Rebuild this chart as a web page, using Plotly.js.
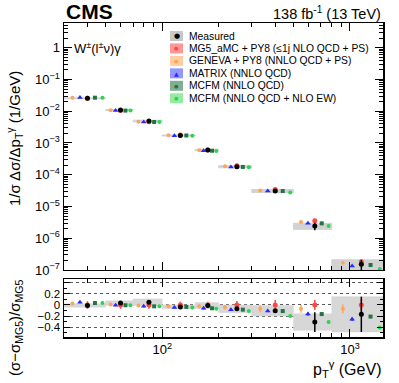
<!DOCTYPE html>
<html>
<head>
<meta charset="utf-8">
<script src="https://cdn.plot.ly/plotly-3.0.1.min.js"></script>
<style>
html, body { margin: 0; padding: 0; background: #fff; }
#chart { width: 399px; height: 383px; }
</style>
</head>
<body>
<div id="chart"></div>
<script>
// p_T^gamma bins (GeV)
var binLo = [30, 50, 70, 100, 150, 200, 300, 500, 800];
var binHi = [50, 70, 100, 150, 200, 300, 500, 800, 1500];

// measured 1/sigma dsigma/dpT (1/GeV)
var measured = [2.55e-2, 1.09e-2, 4.92e-3, 1.72e-3, 6.0e-4, 1.79e-4, 3.08e-5, 2.43e-6, 1.51e-7];

// everything below is (sigma - sigma_MG5)/sigma_MG5
var measuredRatio = [-0.01, 0.035, 0.05, -0.035, -0.01, -0.07, -0.105, -0.31, -0.17];
var measuredStat  = [0.02, 0.02, 0.02, 0.02, 0.02, 0.02, 0.03, 0.18, 0.32];
var measuredTotal = [0.03, 0.04, 0.06, 0.035, 0.055, 0.07, 0.095, 0.15, 0.32];

var mg5Ratio    = [0, 0, 0, 0, 0, 0, 0, 0, 0];
var mg5Err      = [0.07, 0.07, 0.07, 0.06, 0.06, 0.07, 0.09, 0.09, 0.1];
var genevaRatio = [0.025, 0.01, -0.01, -0.025, -0.025, -0.04, -0.07, -0.07, -0.07];
var genevaErr   = [0.03, 0.03, 0.03, 0.03, 0.03, 0.04, 0.06, 0.07, 0.08];
var matrixRatio = [0.05, -0.005, -0.025, -0.045, -0.06, -0.085, -0.11, -0.165, -0.26];
var matrixErr   = [0.02, 0.02, 0.02, 0.02, 0.02, 0.02, 0.02, 0.03, 0.03];
var mcfmRatio   = [0.035, -0.005, -0.025, -0.035, -0.06, -0.085, -0.11, -0.165, -0.21];
var mcfmErr     = [0.015, 0.015, 0.015, 0.015, 0.015, 0.015, 0.02, 0.02, 0.02];
var mcfmEwRatio = [0.035, -0.005, -0.025, -0.045, -0.07, -0.11, -0.2, -0.31, -0.41];
var mcfmEwErr   = [0.02, 0.02, 0.02, 0.02, 0.02, 0.02, 0.02, 0.03, 0.03];

var legendLabels = ['Measured', 'MG5_aMC + PY8 (\u22641j NLO QCD + PS)', 'GENEVA + PY8 (NNLO QCD + PS)',
                    'MATRIX (NNLO QCD)', 'MCFM (NNLO QCD)', 'MCFM (NNLO QCD + NLO EW)'];

var FONT = 'Liberation Sans, Arial, Helvetica, sans-serif';

// MG5 prediction in absolute units, from measured / (1 + ratio)
var mg5Abs = measured.map(function (m, i) { return m / (1 + measuredRatio[i]); });

function xpos(i, f) {
  var c = (binLo[i] + binHi[i]) / 2;
  var w = Math.log10(binHi[i]) - Math.log10(binLo[i]);
  return Math.pow(10, Math.log10(c) + f * w);
}

var series = [
  {name: 'GENEVA', ratio: genevaRatio, err: genevaErr, off: -0.36, color: 'rgb(255,165,90)', symbol: 'circle', size: 4},
  {name: 'MATRIX', ratio: matrixRatio, err: matrixErr, off: -0.18, color: 'rgb(40,40,255)', symbol: 'triangle-up', size: 5},
  {name: 'MCFM', ratio: mcfmRatio, err: mcfmErr, off: 0.18, color: 'rgb(35,115,70)', symbol: 'square', size: 4},
  {name: 'MCFM EW', ratio: mcfmEwRatio, err: mcfmEwErr, off: 0.36, color: 'rgb(40,215,80)', symbol: 'circle', size: 4},
  {name: 'MG5', ratio: mg5Ratio, err: mg5Err, off: 0, color: 'rgb(255,70,70)', symbol: 'circle', size: 5},
  {name: 'Measured', ratio: measuredRatio, err: measuredStat, off: 0, color: 'black', symbol: 'circle', size: 5}
];

var data = [];

// uncertainty bands of the measurement
var bxu = [], byu = [], bxl = [], byl = [];
binLo.forEach(function (lo, i) {
  var hi = binHi[i];
  var hU = mg5Abs[i] * measuredTotal[i];
  var lo1 = measured[i] - hU, hi1 = measured[i] + hU;
  bxu.push(lo, hi, hi, lo, lo, null);
  byu.push(lo1, lo1, hi1, hi1, lo1, null);
  var r0 = measuredRatio[i] - measuredTotal[i], r1 = measuredRatio[i] + measuredTotal[i];
  bxl.push(lo, hi, hi, lo, lo, null);
  byl.push(r0, r0, r1, r1, r0, null);
});
data.push({x: bxu, y: byu, xaxis: 'x', yaxis: 'y', mode: 'lines', fill: 'toself',
  fillcolor: 'rgb(210,210,210)', line: {color: 'rgb(210,210,210)', width: 1}, hoverinfo: 'skip', showlegend: false});
data.push({x: bxl, y: byl, xaxis: 'x2', yaxis: 'y2', mode: 'lines', fill: 'toself',
  fillcolor: 'rgb(215,215,215)', line: {color: 'rgb(215,215,215)', width: 0.5}, hoverinfo: 'skip', showlegend: false});

series.forEach(function (s) {
  var xs = binLo.map(function (lo, i) { return xpos(i, s.off); });
  var yAbs = s.ratio.map(function (r, i) { return mg5Abs[i] * (1 + r); });
  var eAbs = s.err.map(function (e, i) { return mg5Abs[i] * e; });
  var mk = {color: s.color, symbol: s.symbol, size: s.size};
  data.push({x: xs, y: yAbs, xaxis: 'x', yaxis: 'y', mode: 'markers', name: s.name, marker: mk,
    error_y: {type: 'data', array: eAbs, color: s.color, thickness: 1.5, width: 0}, showlegend: false});
  data.push({x: xs, y: s.ratio, xaxis: 'x2', yaxis: 'y2', mode: 'markers', name: s.name, marker: mk,
    error_y: {type: 'data', array: s.err, color: s.color, thickness: 1.5, width: 0}, showlegend: false});
});

// tick positions
var yTickVals = [], yTickText = [], yMinor = [];
for (var p = -7; p <= 0; p++) {
  yTickVals.push(Math.pow(10, p));
  yTickText.push(p === 0 ? '1' : '10<sup>\u2212' + (-p) + '</sup>');
  for (var k = 2; k <= 9; k++) yMinor.push(k * Math.pow(10, p));
}
var xMinor = [40, 50, 60, 70, 80, 90, 200, 300, 400, 500, 600, 700, 800, 900];

var W = 319, H = 314;  // plot area in px
function px(x) { return (x - 64) / W; }
function py(y) { return (337 - y) / H; }

var common = {
  showline: true, linecolor: 'black', linewidth: 1.5, mirror: 'allticks',
  ticks: 'inside', ticklen: 8, tickwidth: 1, tickcolor: 'black',
  zeroline: false, showgrid: false, tickfont: {family: FONT, size: 13, color: 'black'}
};
function ext(o) { var r = {}; for (var k in common) r[k] = common[k]; for (var k2 in o) r[k2] = o[k2]; return r; }

var xr = [Math.log10(30), Math.log10(1500)];
var layout = {
  width: 399, height: 383,
  margin: {l: 64, r: 16, t: 23, b: 46},
  paper_bgcolor: 'white', plot_bgcolor: 'white',
  font: {family: FONT, color: 'black'},
  showlegend: false,
  xaxis: ext({type: 'log', range: xr, domain: [0, 1], anchor: 'y', showticklabels: false,
    tickvals: [100, 1000], minor: {tickvals: xMinor, ticks: 'inside', ticklen: 4, tickcolor: 'black'}}),
  yaxis: ext({type: 'log', range: [-7, 0.778], domain: [0.2134, 1], anchor: 'x',
    tickvals: yTickVals, ticktext: yTickText,
    minor: {tickvals: yMinor, ticks: 'inside', ticklen: 4, tickcolor: 'black'}}),
  xaxis2: ext({type: 'log', range: xr, domain: [0, 1], anchor: 'y2',
    tickvals: [100, 1000], ticktext: ['10<sup>2</sup>', '10<sup>3</sup>'],
    minor: {tickvals: xMinor, ticks: 'inside', ticklen: 4, tickcolor: 'black'}}),
  yaxis2: ext({range: [-0.58, 0.47], domain: [0, 0.1847], anchor: 'x2',
    tickvals: [-0.4, -0.2, 0, 0.2, 0.4], ticktext: ['\u22120.4', '\u22120.2', '0', '0.2', ''],
    tickfont: {family: FONT, size: 11.5, color: 'black'},
    ticklen: 6, showgrid: true, gridcolor: 'rgb(90,90,90)', griddash: 'dot', gridwidth: 1,
    minor: {dtick: 0.1, ticks: 'inside', ticklen: 3, tickcolor: 'black'}}),
  shapes: [],
  annotations: [
    {text: '<b>CMS</b>', xref: 'paper', yref: 'paper', x: 0, y: py(12), xanchor: 'left', yanchor: 'middle',
     showarrow: false, font: {family: FONT, size: 21}},
    {text: '138 fb<sup>-1</sup> (13 TeV)', xref: 'paper', yref: 'paper', x: 1, y: py(13), xanchor: 'right', yanchor: 'middle',
     showarrow: false, font: {family: FONT, size: 14.5}},
    {text: 'W<sup>\u00b1</sup>(l<sup>\u00b1</sup>\u03bd)\u03b3', xref: 'paper', yref: 'paper', x: px(72), y: py(48), xanchor: 'left', yanchor: 'middle',
     showarrow: false, font: {family: FONT, size: 13}},
    {text: '1/\u03c3 \u0394\u03c3/\u0394p<sub>T</sub><sup>\u03b3</sup> (1/GeV)', xref: 'paper', yref: 'paper', x: px(14), y: py(138),
     xanchor: 'center', yanchor: 'middle', textangle: -90, showarrow: false, font: {family: FONT, size: 15}},
    {text: '(\u03c3\u2212\u03c3<sub>MG5</sub>)/\u03c3<sub>MG5</sub>', xref: 'paper', yref: 'paper', x: px(15), y: py(328),
     xanchor: 'center', yanchor: 'middle', textangle: -90, showarrow: false, font: {family: FONT, size: 15}},
    {text: 'p<sub>T</sub><sup>\u03b3</sup> (GeV)', xref: 'paper', yref: 'paper', x: 1, y: py(369),
     xanchor: 'right', yanchor: 'middle', showarrow: false, font: {family: FONT, size: 16}}
  ]
};

// hand-made legend: shaded box + marker + label
var legBox = ['rgb(200,200,200)', 'rgb(255,150,150)', 'rgb(255,205,160)', 'rgb(150,150,255)', 'rgb(130,175,145)', 'rgb(150,235,160)'];
var legMark = ['\u25cf', '\u25cf', '\u25cf', '\u25b2', '\u25cf', '\u25cf'];
var legMarkColor = ['black', 'rgb(255,70,70)', 'rgb(255,165,90)', 'rgb(40,40,255)', 'rgb(35,115,70)', 'rgb(40,215,80)'];
var legMarkSize = [7, 5, 5, 6, 5, 5];
legendLabels.forEach(function (lab, i) {
  var yc = 36 + i * 12.45;
  layout.shapes.push({type: 'rect', xref: 'paper', yref: 'paper', x0: px(170), x1: px(183), y0: py(yc + 5), y1: py(yc - 5),
    fillcolor: legBox[i], line: {width: 0}});
  layout.annotations.push({text: legMark[i], xref: 'paper', yref: 'paper', x: px(176.5), y: py(yc), xanchor: 'center', yanchor: 'middle',
    showarrow: false, font: {family: 'DejaVu Sans', size: legMarkSize[i], color: legMarkColor[i]}});
  layout.annotations.push({text: lab, xref: 'paper', yref: 'paper', x: px(187), y: py(yc), xanchor: 'left', yanchor: 'middle',
    showarrow: false, font: {family: FONT, size: 10.3}});
});

Plotly.newPlot('chart', data, layout, {displayModeBar: false, staticPlot: true});
</script>
</body>
</html>
